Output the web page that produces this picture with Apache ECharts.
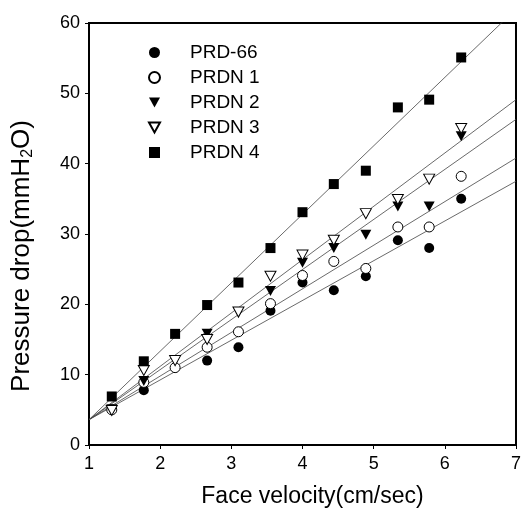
<!DOCTYPE html>
<html>
<head>
<meta charset="utf-8">
<script src="https://cdn.jsdelivr.net/npm/echarts@6/dist/echarts.min.js"></script>
<style>
  html, body { margin: 0; padding: 0; background: #fff; }
  #chart { width: 524px; height: 513px; }
</style>
</head>
<body>
<div id="chart"></div>
<script>
// face velocity (cm/sec) shared by all samples
const velocity = [1.32, 1.77, 2.21, 2.66, 3.1, 3.55, 4.0, 4.44, 4.89, 5.34, 5.78, 6.23];

// pressure drop (mmH2O), null = not visible in the plot
const prd66 = [null, 7.8, null, 12.0, 13.9, 19.1, 23.1, 22.0, 24.0, 29.1, 28.0, 35.0];
const prdn1 = [5.0, 8.9, 11.0, 13.9, 16.1, 20.1, 24.1, 26.1, 25.1, 31.0, 31.0, 38.2];
const prdn2 = [5.1, 9.1, null, 15.8, null, 21.9, 25.9, 28.0, 29.9, 33.9, 33.9, 43.9];
const prdn3 = [4.9, 10.6, 12.0, 15.0, 18.9, 24.0, 27.0, 29.1, 32.9, 34.9, 37.8, 45.0];
const prdn4 = [6.9, 11.9, 15.8, 19.9, 23.1, 28.0, 33.1, 37.1, 39.0, 48.0, 49.1, 55.1];

// fitted lines: value at velocity 1 and 7
const fitX = [1, 7];
const prd66Fit = [3.6, 37.5];
const prdn1Fit = [3.6, 40.8];
const prdn2Fit = [3.6, 46.3];
const prdn3Fit = [3.6, 49.1];
const prdn4Fit = [3.6, 62.0];

const names = ['PRD-66', 'PRDN 1', 'PRDN 2', 'PRDN 3', 'PRDN 4'];

const FONT = '"Liberation Sans", Arial, sans-serif';
const downTri = 'path://M0,0 L10,0 L5,9 Z';

function pairs(ys) {
  const out = [];
  velocity.forEach((x, i) => {
    if (ys[i] !== null) out.push([x, ys[i]]);
  });
  return out;
}

function fitLine(ys) {
  return {
    type: 'line',
    data: fitX.map((x, i) => [x, ys[i]]),
    showSymbol: false,
    silent: true,
    clip: true,
    lineStyle: { color: '#444', width: 0.8 },
    z: 1,
  };
}

const filled = { color: '#000', opacity: 1 };
const hollow = { color: '#fff', borderColor: '#000', borderWidth: 1, opacity: 1 };

const myChart = echarts.init(document.getElementById('chart'));
const option = {
  animation: false,
  backgroundColor: '#fff',
  textStyle: { fontFamily: FONT },
  grid: {
    left: 89,
    right: 4,
    top: 23,
    bottom: 67,
    show: true,
    borderColor: '#000',
    borderWidth: 2,
  },
  legend: {
    data: names,
    orient: 'vertical',
    left: 143,
    top: 38,
    itemWidth: 11,
    itemHeight: 11,
    itemGap: 6,
    textStyle: {
      fontFamily: FONT,
      fontSize: 19,
      color: '#000',
      padding: [0, 0, 0, 25],
    },
  },
  xAxis: {
    type: 'value',
    min: 1,
    max: 7,
    interval: 1,
    name: 'Face velocity(cm/sec)',
    nameLocation: 'middle',
    nameGap: 40,
    nameTextStyle: { fontFamily: FONT, fontSize: 23, color: '#000', padding: [0, 0, 0, 20] },
    splitLine: { show: false },
    axisLine: { lineStyle: { color: '#000', width: 2 } },
    axisTick: { length: 4, lineStyle: { color: '#000' } },
    axisLabel: { fontFamily: FONT, fontSize: 18, color: '#000', margin: 10 },
  },
  yAxis: {
    type: 'value',
    min: 0,
    max: 60,
    interval: 10,
    name: '{n|Pressure drop(mmH}{s|2}{n|O)}',
    nameLocation: 'middle',
    nameGap: 53,
    nameTextStyle: {
      padding: [0, 44, 0, 0],
      rich: {
        n: { fontFamily: FONT, fontSize: 26, color: '#000' },
        s: { fontFamily: FONT, fontSize: 16, color: '#000', verticalAlign: 'bottom', padding: [13, 0, 0, 0] },
      },
    },
    splitLine: { show: false },
    axisLine: { lineStyle: { color: '#000', width: 2 } },
    axisTick: { length: 4, lineStyle: { color: '#000' } },
    axisLabel: { fontFamily: FONT, fontSize: 18, color: '#000', margin: 9 },
  },
  series: [
    fitLine(prd66Fit),
    fitLine(prdn1Fit),
    fitLine(prdn2Fit),
    fitLine(prdn3Fit),
    fitLine(prdn4Fit),
    {
      name: 'PRD-66', type: 'scatter', data: pairs(prd66),
      symbol: 'circle', symbolSize: 10, itemStyle: filled, z: 3,
    },
    {
      name: 'PRDN 1', type: 'scatter', data: pairs(prdn1),
      symbol: 'circle', symbolSize: 10, itemStyle: hollow, z: 3,
    },
    {
      name: 'PRDN 2', type: 'scatter', data: pairs(prdn2),
      symbol: downTri, symbolSize: [11, 10], itemStyle: filled, z: 3,
    },
    {
      name: 'PRDN 3', type: 'scatter', data: pairs(prdn3),
      symbol: downTri, symbolSize: [11, 10], itemStyle: hollow, z: 3,
    },
    {
      name: 'PRDN 4', type: 'scatter', data: pairs(prdn4),
      symbol: 'rect', symbolSize: 10, itemStyle: filled, z: 3,
    },
  ],
};
myChart.setOption(option);

window.addEventListener('resize', () => {
  myChart.resize();
});
</script>
</body>
</html>
